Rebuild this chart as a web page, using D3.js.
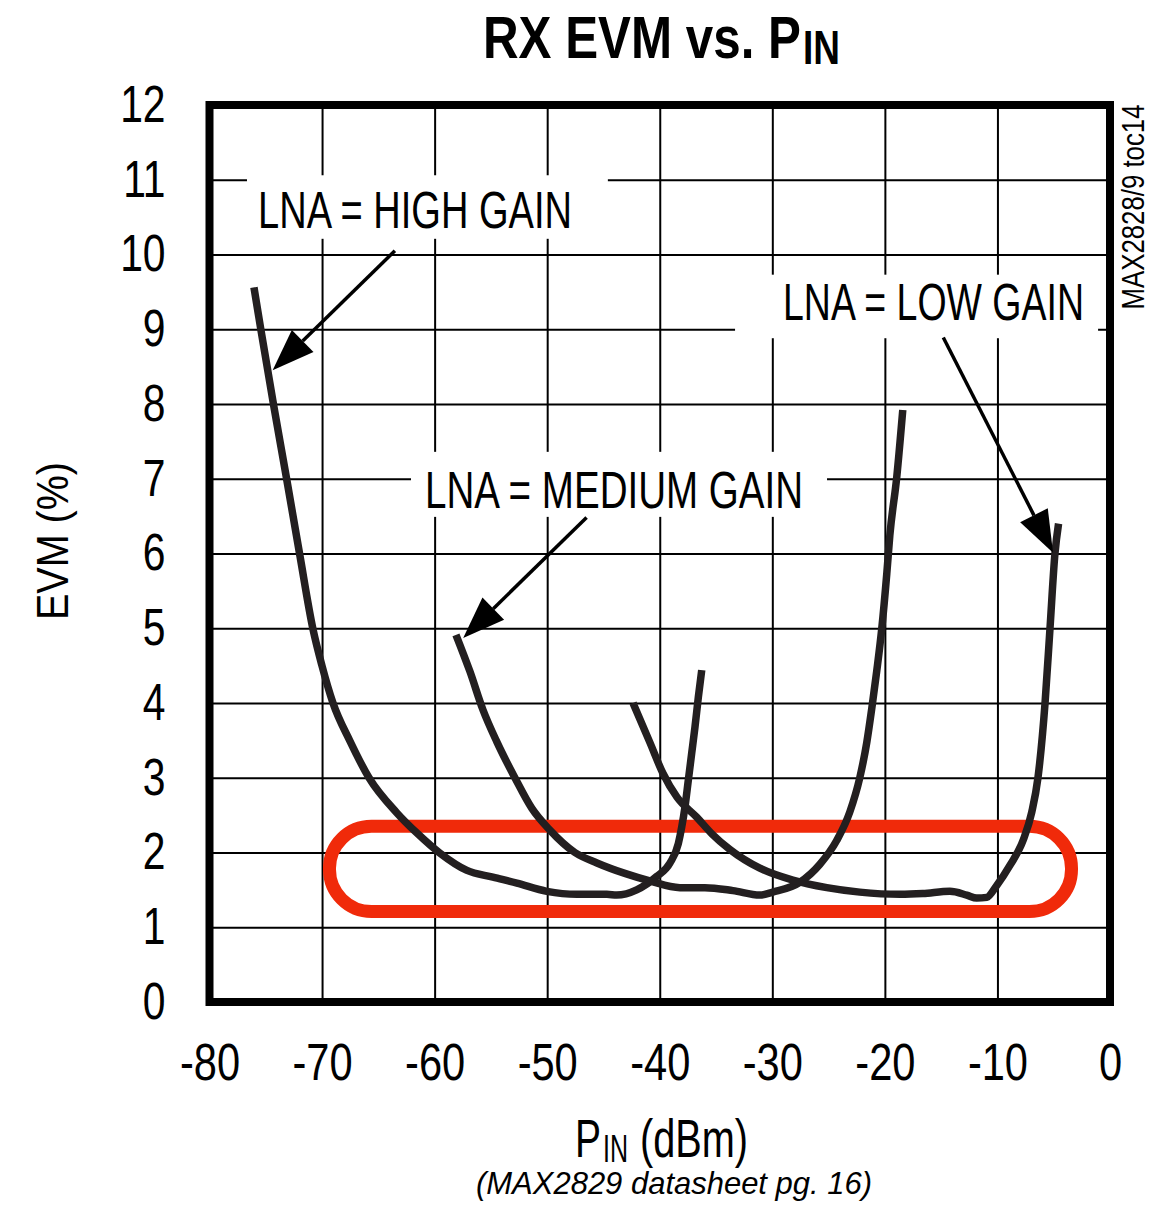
<!DOCTYPE html>
<html>
<head>
<meta charset="utf-8">
<style>
  body { margin: 0; background: #fff; }
  svg text { font-family: "Liberation Sans", "Helvetica", "Arial", sans-serif; fill: #000; }
  .grid line { stroke: #000; stroke-width: 2; }
  .curve { fill: none; stroke: #231f20; stroke-width: 7.5; stroke-linejoin: round; }
</style>
<script src="https://d3js.org/d3.v7.min.js"></script>
</head>
<body>
<svg width="1159" height="1205"></svg>
<script>
// axis ticks
var xTicks = [-80, -70, -60, -50, -40, -30, -20, -10, 0];
var yTicks = [0, 1, 2, 3, 4, 5, 6, 7, 8, 9, 10, 11, 12];

// curves: [Pin dBm, EVM %]
var highGain = [
  [-76.05, 9.56], [-75.42, 8.98], [-74.30, 7.98], [-73.15, 7.00], [-72.00, 6.00],
  [-70.81, 4.99], [-70.01, 4.50], [-69.03, 4.00], [-67.52, 3.49], [-65.83, 3.00],
  [-63.35, 2.53], [-61.57, 2.26], [-59.52, 1.99], [-57.13, 1.76], [-54.82, 1.67],
  [-52.69, 1.59], [-50.03, 1.48], [-47.36, 1.44], [-44.70, 1.44], [-43.82, 1.43],
  [-42.05, 1.50], [-40.27, 1.68], [-39.09, 1.86], [-38.35, 2.12], [-38.05, 2.34],
  [-37.76, 2.61], [-37.46, 2.97], [-37.16, 3.33], [-36.87, 3.68], [-36.57, 4.08],
  [-36.27, 4.44]
];
var mediumGain = [
  [-58.10, 4.91], [-56.86, 4.42], [-55.71, 3.91], [-54.47, 3.48], [-52.87, 3.00],
  [-51.36, 2.59], [-49.76, 2.30], [-47.54, 2.00], [-45.58, 1.86], [-43.10, 1.72],
  [-40.88, 1.62], [-38.21, 1.53], [-35.99, 1.53], [-33.50, 1.49], [-31.11, 1.43],
  [-29.96, 1.47], [-27.56, 1.60], [-25.79, 1.84], [-24.28, 2.16], [-23.12, 2.54],
  [-22.23, 3.00], [-21.61, 3.47], [-21.17, 3.92], [-20.72, 4.43], [-20.28, 4.99],
  [-19.83, 5.73], [-19.56, 6.24], [-18.94, 7.03], [-18.41, 7.92]
];
var lowGain = [
  [-42.38, 4.00], [-40.87, 3.47], [-39.72, 3.06], [-38.47, 2.74], [-36.70, 2.47],
  [-35.37, 2.25], [-33.77, 2.04], [-31.11, 1.79], [-28.18, 1.63], [-25.16, 1.53],
  [-22.23, 1.47], [-18.67, 1.44], [-16.63, 1.45], [-14.23, 1.48], [-12.72, 1.43],
  [-11.84, 1.39], [-10.95, 1.40], [-10.06, 1.56], [-8.88, 1.83], [-7.70, 2.17],
  [-6.95, 2.54], [-6.40, 3.00], [-5.77, 4.00], [-5.33, 5.00], [-4.89, 6.00],
  [-4.57, 6.40]
];

// callouts (data units)
var labelText = ["LNA = HIGH GAIN", "LNA = MEDIUM GAIN", "LNA = LOW GAIN"];
var labelAt = [[-75.69, 10.35], [-60.85, 6.61], [-29.05, 9.12]];
var labelWidth = [314, 378, 301];
var labelBox = [[-76.67, -44.61, 10.21, 11.06], [-62.1, -25.14, 6.49, 7.36], [-33.31, -1.06, 8.88, 9.73]];
var arrowFrom = [[-63.53, 10.05], [-46.5, 6.48], [-14.81, 8.89]];
var arrowTo = [[-74.39, 8.45], [-57.46, 4.87], [-5.06, 6.01]];
var highlight = [-69.34, -3.42, 1.21, 2.35];

var svg = d3.select("svg");
var plotL = 209.5, plotR = 1110, plotT = 105, plotB = 1002;
var squeeze = 0.8;

var x = d3.scaleLinear().domain([-80, 0]).range([plotL, plotR]);
var y = d3.scaleLinear().domain([0, 12]).range([plotB, plotT]);

// grid
svg.append("g").attr("class", "grid")
   .attr("transform", "translate(0," + plotB + ")")
   .call(d3.axisBottom(x).tickValues(xTicks).tickSize(-(plotB - plotT)).tickFormat(""))
   .call(function(g) { g.select(".domain").remove(); });
svg.append("g").attr("class", "grid")
   .attr("transform", "translate(" + plotL + ",0)")
   .call(d3.axisLeft(y).tickValues(yTicks).tickSize(-(plotR - plotL)).tickFormat(""))
   .call(function(g) { g.select(".domain").remove(); });

// tick labels
var xa = svg.append("g")
   .attr("transform", "translate(0," + plotB + ")")
   .call(d3.axisBottom(x).tickValues(xTicks).tickSize(0).tickPadding(41)
           .tickFormat(function(d) { return String(d); }));
xa.select(".domain").remove();
xa.selectAll("text")
  .attr("transform", "scale(" + squeeze + ",1)")
  .style("font-size", "52px").style("font-family", null).attr("fill", "#000");

var ya = svg.append("g")
   .attr("transform", "translate(" + plotL + ",0)")
   .call(d3.axisLeft(y).tickValues(yTicks).tickSize(0).tickPadding(44));
ya.select(".domain").remove();
ya.selectAll("text")
  .attr("x", -44 / squeeze)
  .attr("transform", "scale(" + squeeze + ",1)")
  .style("font-size", "51px").style("font-family", null).attr("fill", "#000");

// label boxes break the grid
labelBox.forEach(function(b, i) {
  svg.append("rect")
     .attr("x", x(b[0])).attr("y", y(b[3]))
     .attr("width", x(b[1]) - x(b[0])).attr("height", y(b[2]) - y(b[3]))
     .attr("fill", "#fff");
  svg.append("text")
     .attr("x", x(labelAt[i][0])).attr("y", y(labelAt[i][1]))
     .attr("textLength", labelWidth[i]).attr("lengthAdjust", "spacingAndGlyphs")
     .style("font-size", "52px")
     .text(labelText[i]);
});

// highlight
svg.append("rect")
   .attr("x", x(highlight[0])).attr("y", y(highlight[3]))
   .attr("width", x(highlight[1]) - x(highlight[0]))
   .attr("height", y(highlight[2]) - y(highlight[3]))
   .attr("rx", 42).attr("ry", 42)
   .attr("fill", "none").attr("stroke", "#f02a0a").attr("stroke-width", 13);

// curves
var line = d3.line()
   .x(function(d) { return x(d[0]); })
   .y(function(d) { return y(d[1]); })
   .curve(d3.curveMonotoneX);

[highGain, mediumGain, lowGain].forEach(function(s) {
  svg.append("path").attr("class", "curve").attr("d", line(s));
});

// arrows
arrowFrom.forEach(function(a, i) {
  var x0 = x(a[0]), y0 = y(a[1]), x1 = x(arrowTo[i][0]), y1 = y(arrowTo[i][1]);
  var len = Math.hypot(x1 - x0, y1 - y0), ux = (x1 - x0) / len, uy = (y1 - y0) / len;
  var bx = x1 - ux * 42, by = y1 - uy * 42;
  svg.append("line").attr("x1", x0).attr("y1", y0).attr("x2", bx).attr("y2", by)
     .attr("stroke", "#000").attr("stroke-width", 3.5);
  svg.append("polygon")
     .attr("points", [[x1, y1], [bx - uy * 15.5, by + ux * 15.5], [bx + uy * 15.5, by - ux * 15.5]].join(" "))
     .attr("fill", "#000");
});

// frame
svg.append("rect")
   .attr("x", plotL).attr("y", plotT).attr("width", plotR - plotL).attr("height", plotB - plotT)
   .attr("fill", "none").attr("stroke", "#000").attr("stroke-width", 8);

// titles
svg.append("text").attr("x", 483).attr("y", 58)
   .attr("textLength", 318).attr("lengthAdjust", "spacingAndGlyphs")
   .style("font-size", "59px").style("font-weight", "bold")
   .text("RX EVM vs. P");
svg.append("text").attr("x", 803).attr("y", 64)
   .attr("textLength", 37).attr("lengthAdjust", "spacingAndGlyphs")
   .style("font-size", "49px").style("font-weight", "bold")
   .text("IN");

svg.append("text").attr("x", 575).attr("y", 1157).style("font-size", "53px")
   .attr("textLength", 26).attr("lengthAdjust", "spacingAndGlyphs").text("P");
svg.append("text").attr("x", 603).attr("y", 1162).style("font-size", "38px")
   .attr("textLength", 25).attr("lengthAdjust", "spacingAndGlyphs").text("IN");
svg.append("text").attr("x", 640).attr("y", 1157).style("font-size", "53px")
   .attr("textLength", 108).attr("lengthAdjust", "spacingAndGlyphs").text("(dBm)");

svg.append("text").attr("x", 476).attr("y", 1194)
   .attr("textLength", 396).attr("lengthAdjust", "spacingAndGlyphs")
   .style("font-size", "32px").style("font-style", "italic")
   .text("(MAX2829 datasheet  pg. 16)");

svg.append("text")
   .attr("transform", "translate(68,541) rotate(-90)")
   .attr("text-anchor", "middle")
   .attr("textLength", 158).attr("lengthAdjust", "spacingAndGlyphs")
   .style("font-size", "45px")
   .text("EVM (%)");

svg.append("text")
   .attr("transform", "translate(1144,207) rotate(-90)")
   .attr("text-anchor", "middle")
   .attr("textLength", 205).attr("lengthAdjust", "spacingAndGlyphs")
   .style("font-size", "31px")
   .text("MAX2828/9 toc14");
</script>
</body>
</html>
